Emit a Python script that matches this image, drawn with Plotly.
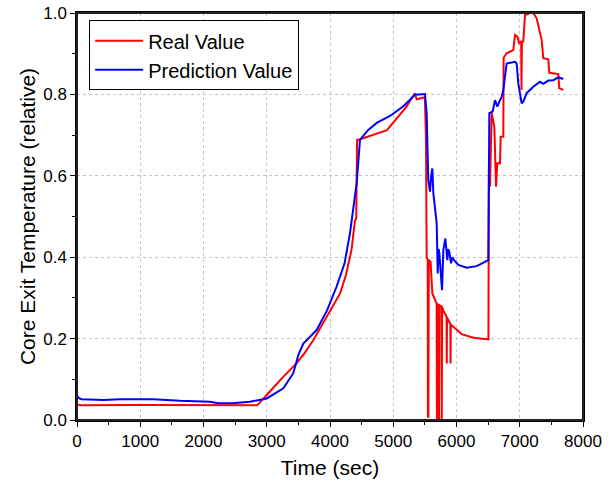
import plotly.graph_objects as go

# Real Value series (time in sec, relative temperature)
real_time = [0, 60, 1000, 2000, 2850, 3050, 3260, 3470, 3600, 3740, 3950, 4160, 4250, 4340, 4395, 4415, 4428, 4440,
             4900, 5100, 5210, 5340, 5370, 5500, 5518, 5528, 5545, 5549, 5556, 5562, 5590, 5618, 5676,
             5686, 5690, 5695, 5718, 5723, 5728, 5762, 5767, 5772, 5800, 5843, 5846, 5850, 5903, 5906,
             5910, 5950, 6080, 6270, 6505, 6512, 6530, 6556, 6598, 6625, 6645, 6688, 6698, 6740, 6745,
             6793, 6898, 6925, 6962, 6988, 7022, 7028, 7034, 7056, 7083, 7162, 7214, 7267, 7309, 7346,
             7372, 7451, 7467, 7609, 7625, 7688]
real_value = [0.038, 0.036, 0.037, 0.036, 0.036, 0.070, 0.106, 0.139, 0.165, 0.197, 0.254, 0.311, 0.355, 0.418, 0.490, 0.495, 0.690, 0.688,
              0.712, 0.750, 0.770, 0.803, 0.788, 0.793, 0.690, 0.400, 0.393, 0.008, 0.008, 0.393, 0.389, 0.311, 0.287,
              0.286, 0.000, 0.285, 0.283, 0.000, 0.282, 0.279, 0.000, 0.278, 0.266, 0.254, 0.139, 0.252, 0.236, 0.139,
              0.234, 0.229, 0.211, 0.202, 0.198, 0.622, 0.573, 0.754, 0.721, 0.573, 0.631, 0.631, 0.696, 0.696, 0.890,
              0.901, 0.909, 0.946, 0.942, 0.926, 0.930, 0.811, 0.930, 0.930, 0.995, 1.000, 1.000, 0.987, 0.958, 0.934,
              0.889, 0.886, 0.853, 0.850, 0.815, 0.811]

# Prediction Value series
pred_time = [0, 40, 74, 416, 680, 1206, 1628, 1997, 2100, 2235, 2500, 2735, 3000, 3262, 3420, 3500, 3578, 3789,
             3950, 4105, 4230, 4316, 4422, 4474, 4600, 4738, 4949, 5160, 5344, 5502, 5528, 5554, 5581, 5600, 5618, 5634, 5687,
             5703, 5716, 5729, 5750, 5771, 5792, 5824, 5855, 5870, 5887, 5913, 5935, 5960, 6029, 6161, 6319,
             6503, 6519, 6572, 6609, 6645, 6688, 6714, 6740, 6793, 6925, 6951, 6977, 7030, 7056, 7109, 7214,
             7320, 7372, 7451, 7530, 7609, 7688]
pred_value = [0.059, 0.053, 0.051, 0.049, 0.051, 0.051, 0.047, 0.045, 0.045, 0.041, 0.042, 0.045, 0.053, 0.078, 0.115, 0.160, 0.188, 0.221,
              0.268, 0.328, 0.385, 0.459, 0.582, 0.688, 0.712, 0.730, 0.747, 0.771, 0.799, 0.801, 0.754, 0.590, 0.561, 0.600, 0.618, 0.557, 0.483,
              0.360, 0.420, 0.410, 0.369, 0.319, 0.418, 0.446, 0.393, 0.420, 0.413, 0.385, 0.400, 0.393, 0.381, 0.374, 0.378,
              0.393, 0.754, 0.758, 0.786, 0.770, 0.786, 0.794, 0.811, 0.876, 0.880, 0.876, 0.827, 0.778, 0.782, 0.803, 0.819,
              0.831, 0.826, 0.834, 0.835, 0.842, 0.838]

x_ticks = [0, 1000, 2000, 3000, 4000, 5000, 6000, 7000, 8000]
y_ticks = [0.0, 0.2, 0.4, 0.6, 0.8, 1.0]

FONT = "Arial, Liberation Sans, sans-serif"

fig = go.Figure()
fig.add_trace(go.Scatter(x=real_time, y=real_value, mode="lines", name="Real Value",
                         line=dict(color="#FF0000", width=2)))
fig.add_trace(go.Scatter(x=pred_time, y=pred_value, mode="lines", name="Prediction Value",
                         line=dict(color="#0000FF", width=2)))

fig.update_layout(
    width=612, height=483,
    margin=dict(l=77, r=29, t=13, b=63),
    paper_bgcolor="white", plot_bgcolor="white",
    font=dict(family=FONT, color="black", size=17),
    showlegend=True,
    legend=dict(x=0.024, y=0.982, xanchor="left", yanchor="top",
                bgcolor="white", bordercolor="black", borderwidth=1,
                font=dict(family=FONT, size=20, color="black"),
                itemwidth=48, tracegroupgap=0),
    xaxis=dict(
        range=[0, 8000], tickvals=x_ticks, ticktext=[str(v) for v in x_ticks],
        showline=True, linecolor="black", linewidth=1.5, mirror=True,
        ticks="outside", ticklen=5, tickwidth=1.2, tickcolor="black",
        minor=dict(dtick=500, ticks="outside", ticklen=3, tickwidth=1.2, tickcolor="black", showgrid=False),
        showgrid=True, gridcolor="#c4c4c4", griddash="dot", gridwidth=1,
        zeroline=False, automargin=False,
        title=dict(text="Time (sec)", font=dict(family=FONT, size=21), standoff=10),
        tickfont=dict(family=FONT, size=17),
    ),
    yaxis=dict(
        range=[0, 1.0], tickvals=y_ticks, ticktext=[f"{v:.1f}" for v in y_ticks],
        showline=True, linecolor="black", linewidth=1.5, mirror=True,
        ticks="outside", ticklen=5, tickwidth=1.2, tickcolor="black",
        minor=dict(dtick=0.1, ticks="outside", ticklen=3, tickwidth=1.2, tickcolor="black", showgrid=False),
        showgrid=True, gridcolor="#c4c4c4", griddash="dot", gridwidth=1,
        zeroline=False, automargin=False,
        title=dict(text="Core Exit Temperature (relative)", font=dict(family=FONT, size=21), standoff=2),
        tickfont=dict(family=FONT, size=17),
    ),
    shapes=[dict(type="rect", xref="paper", yref="paper", x0=0, x1=1, y0=0, y1=1,
                 line=dict(color="#222222", width=2), layer="above")],
)

fig.write_html("out.html", config={"displayModeBar": False},
               post_script="document.body.style.margin='0';")
